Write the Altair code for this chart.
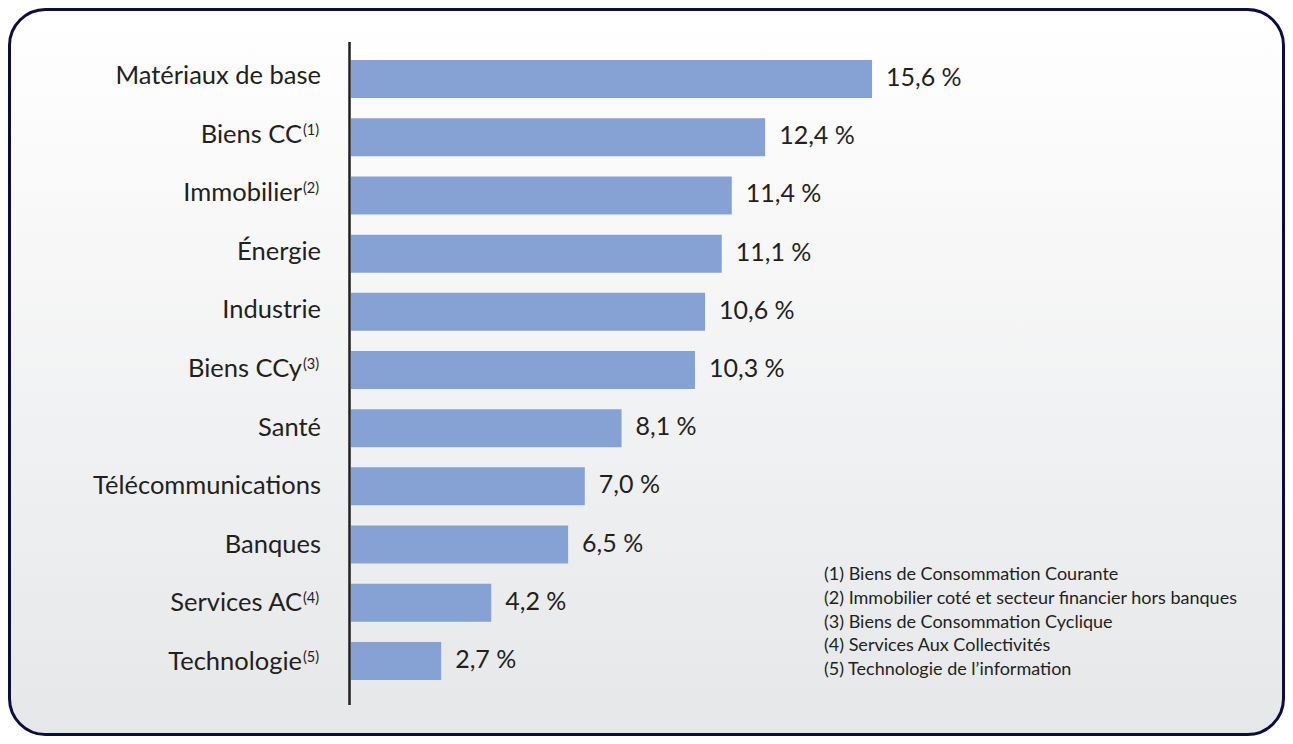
import altair as alt
import pandas as pd

categories = ["Matériaux de base", "Biens CC", "Immobilier", "Énergie", "Industrie",
              "Biens CCy", "Santé", "Télécommunications", "Banques", "Services AC", "Technologie"]
notes = ["", "(1)", "(2)", "", "", "(3)", "", "", "", "(4)", "(5)"]
values = [15.6, 12.4, 11.4, 11.1, 10.6, 10.3, 8.1, 7.0, 6.5, 4.2, 2.7]
footnotes = [
    "(1) Biens de Consommation Courante",
    "(2) Immobilier coté et secteur financier hors banques",
    "(3) Biens de Consommation Cyclique",
    "(4) Services Aux Collectivités",
    "(5) Technologie de l’information",
]

df = pd.DataFrame({
    "cat": categories,
    "note": notes,
    "value": values,
    "label": [f"{v:.1f}".replace(".", ",") + " %" for v in values],
})
fdf = pd.DataFrame({"line": footnotes, "i": list(range(len(footnotes)))})

FONT = "Lato"
TXT = "#231f20"
W, H = 1277, 728

xscale = alt.Scale(domain=[0, 16], range=[343, 343 + 33.4 * 16])
yscale = alt.Scale(domain=categories, range=[42, 682], paddingInner=0.347, paddingOuter=0.1735)
lscale = alt.Scale(type="point", domain=categories, range=[76, 662], padding=0)

base = alt.Chart(df)
Y = alt.Y("cat:N", sort=categories, scale=yscale, axis=None)
YL = alt.Y("cat:N", sort=categories, scale=lscale, axis=None)

frame = alt.Chart(pd.DataFrame({"t": [0]})).mark_rect(
    cornerRadius=36, stroke="#0b0d3f", strokeWidth=3,
    fill={"gradient": "linear", "x1": 0, "y1": 0, "x2": 0, "y2": 1,
          "stops": [{"offset": 0, "color": "#ffffff"}, {"offset": 1, "color": "#e6e7e9"}]},
).encode(x=alt.value(1.5), x2=alt.value(W - 1.5), y=alt.value(1.5), y2=alt.value(H - 1.5))

bars = base.mark_bar(color="#86a2d4").encode(
    x=alt.X("value:Q", scale=xscale, axis=None),
    x2=alt.datum(0),
    y=Y,
)

vals = base.mark_text(align="left", baseline="alphabetic", dx=14, dy=7, font=FONT,
                      fontSize=25, color=TXT).encode(
    x=alt.X("value:Q", scale=xscale, axis=None),
    y=Y,
    text="label:N",
)

axis_line = alt.Chart(pd.DataFrame({"z": [0]})).mark_rule(color="#231f20", strokeWidth=2.5).encode(
    x=alt.value(341.5), y=alt.value(34), y2=alt.value(697)
)

lab_plain = base.transform_filter("datum.note == ''").mark_text(
    align="right", baseline="alphabetic", font=FONT, fontSize=25.5, color=TXT
).encode(x=alt.value(313), y=YL, text="cat:N")

lab_noted = base.transform_filter("datum.note != ''").mark_text(
    align="right", baseline="alphabetic", font=FONT, fontSize=25.5, color=TXT
).encode(x=alt.value(294), y=YL, text="cat:N")

sup = base.transform_filter("datum.note != ''").mark_text(
    align="left", baseline="alphabetic", dy=-8, font=FONT, fontSize=14.5, color=TXT
).encode(x=alt.value(295), y=YL, text="note:N")

foot = alt.Chart(fdf).mark_text(
    align="left", baseline="middle", font=FONT, fontSize=18, color=TXT
).encode(
    x=alt.value(816),
    y=alt.Y("i:O", scale=alt.Scale(type="point", range=[567, 662], padding=0), axis=None),
    text="line:N",
)

main = alt.layer(frame, axis_line, bars, vals)
labels = alt.layer(lab_plain, lab_noted, sup)
chart = alt.layer(main, labels, foot).resolve_scale(y="independent").properties(
    width=W, height=H, padding=0, autosize=alt.AutoSizeParams(type="none")
).configure_view(strokeWidth=0)

chart.save("out.html", embed_options={"renderer": "svg", "actions": False})
